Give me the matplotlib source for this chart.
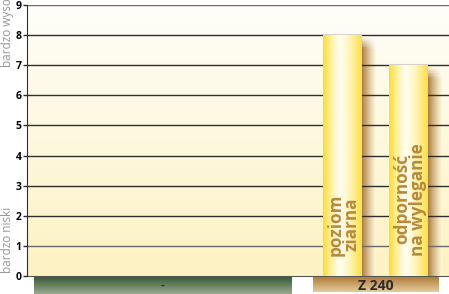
import numpy as np
import matplotlib.pyplot as plt
from matplotlib.colors import LinearSegmentedColormap, to_rgb

# ---------- Data ----------
groups = ["-", "Z 240"]
traits = ["poziom\nziarna", "odporność\nna wyleganie"]
scores = [8, 7]
y_ticks = list(range(0, 10))
y_low_label = "bardzo niski"
y_high_label = "bardzo wysoki"

# ---------- Style ----------
plt.rcParams["font.family"] = ["Open Sans", "DejaVu Sans"]
W, H = 449, 294
BAR_W = 0.59
XLIM = (-4.78, 1.614)
TEXT_GOLD = "#b8893a"
GRID_C = "#2e2e2e"
BG_TOP, BG_BOTTOM = "#fffefa", "#fdf2c2"
SHADOW_C = np.array(to_rgb("#a4712c"))


def hgrad(colors, stops, n=256):
    cmap = LinearSegmentedColormap.from_list("g", list(zip(stops, colors)))
    return cmap(np.linspace(0, 1, n))[None, :, :]


def vgrad(top, bottom, n=256):
    a, b = np.array(to_rgb(top)), np.array(to_rgb(bottom))
    t = np.linspace(0, 1, n)[:, None]
    return (a * (1 - t) + b * t)[:, None, :]


def bg_at(y):
    t = (9 - y) / 9
    return np.array(to_rgb(BG_TOP)) * (1 - t) + np.array(to_rgb(BG_BOTTOM)) * t


def shade(a, y):
    # opaque colour: shadow blended onto the background at height y
    return tuple(bg_at(y) * (1 - a) + SHADOW_C * a)


fig = plt.figure(figsize=(W / 100, H / 100), dpi=100)
ax = fig.add_axes([27 / W, 18 / H, 422 / W, 271 / H])
ax.set_xlim(*XLIM)
ax.set_ylim(0, 9)

# background
ax.imshow(vgrad(BG_TOP, BG_BOTTOM), extent=[XLIM[0], XLIM[1], 0, 9],
          aspect="auto", zorder=-5, interpolation="bilinear")

# gridlines
for t in y_ticks[1:]:
    ax.axhline(t, color="#6a6a6a" if t in (1, 9) else GRID_C, lw=1, zorder=2)

# bars with soft shadows (shadow built from thin strips fading right / at top)
bar_x = np.arange(len(scores))
bar_img = hgrad(["#fddc30", "#fff09a", "#fffef6", "#fff5bc", "#fde042"],
                [0, 0.2, 0.42, 0.68, 1])
n_cols, n_fade = 14, 8
shadow_w, fade_h = 0.21, 0.4
dw = shadow_w / n_cols
for x, s, lab in zip(bar_x, scores, traits):
    sx0 = x + BAR_W / 2
    body_top = s - 0.05 - fade_h
    for j in range(n_cols):
        a = 0.9 * (1 - (j + 0.5) / n_cols) ** 1.2
        ax.bar(sx0 + j * dw, body_top, width=dw * 1.05, bottom=0, align="edge",
               color=shade(a, body_top / 2), linewidth=0, zorder=1.5)
        for k in range(n_fade):
            yk = body_top + k * fade_h / n_fade
            ak = a * (1 - (k + 0.5) / n_fade)
            ax.bar(sx0 + j * dw, fade_h / n_fade * 1.05, width=dw * 1.05,
                   bottom=yk, align="edge", color=shade(ak, yk),
                   linewidth=0, zorder=1.5)
    ax.imshow(bar_img, extent=[x - BAR_W / 2, x + BAR_W / 2, 0, s],
              aspect="auto", zorder=3, interpolation="bilinear")
    ax.text(x + 0.02, 0.68, lab, rotation=90, ha="center", va="bottom",
            fontsize=12.3, fontweight="bold", color=TEXT_GOLD,
            linespacing=0.82, zorder=4)

ax.set_xlim(*XLIM)
ax.set_ylim(0, 9)
ax.set_xticks([])
ax.set_yticks(y_ticks)
ax.set_yticklabels([str(t) for t in y_ticks], fontsize=7.5, fontweight="bold")
ax.tick_params(axis="y", length=3, width=1, color=GRID_C, pad=1)
for side in ("top", "right"):
    ax.spines[side].set_visible(False)
ax.spines["left"].set_color(GRID_C)
ax.spines["bottom"].set_color("#555555")
ax.spines["left"].set_zorder(5)

fig.text(8 / W, 1 - 67 / H, y_high_label, rotation=90, ha="center",
         va="bottom", fontsize=8.5, color="#969696")
fig.text(8 / W, 1 - 273 / H, y_low_label, rotation=90, ha="center",
         va="bottom", fontsize=8.5, color="#969696")

# group bands under the axis
bx = fig.add_axes([27 / W, 0, 422 / W, 17 / H])
bx.axis("off")
group_spans = [(-4.674, -0.78), (-0.447, 1.447)]
group_fills = [("#385c37", "#9aa98f"), ("#ad7833", "#e6cb9d")]
for name, (x0, x1), (c0, c1) in zip(groups, group_spans, group_fills):
    bottom = 0.0 if name == "-" else 0.1
    bx.imshow(vgrad(c0, c1), extent=[x0, x1, bottom, 1.0], aspect="auto",
              interpolation="bilinear")
    bx.text((x0 + x1) / 2, 0.5, name, ha="center", va="center",
            fontsize=10 if name != "-" else 8, fontweight="bold",
            color="#2b2b2b")
bx.set_xlim(*XLIM)
bx.set_ylim(0, 1)

fig.savefig("out.png", dpi=100)
